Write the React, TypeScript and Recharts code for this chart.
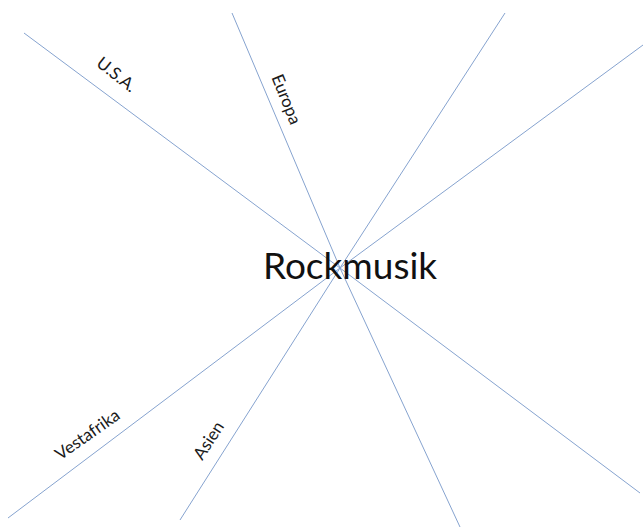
import React from "react";
import { ComposedChart, Line, Scatter, XAxis, YAxis } from "recharts";

const W = 643;
const H = 530;

const hub = { x: 340, y: 268 };

const spokeEnds = [
  { x: 24, y: 33 },
  { x: 232, y: 13 },
  { x: 505, y: 13 },
  { x: 643, y: 45 },
  { x: 640, y: 493 },
  { x: 460, y: 527 },
  { x: 180, y: 520 },
  { x: 8, y: 518 },
];

const labelTexts = ["U.S.A.", "Europa", "Vestafrika", "Asien"];
const labelX = [117, 287, 87, 208];
const labelY = [74, 99, 434, 440];
const labelAngles = [38, 68, -35, -57];

const centerTitle = "Rockmusik";

const labels = labelTexts.map((t, i) => ({
  x: labelX[i],
  y: labelY[i],
  text: t,
  angle: labelAngles[i],
}));

const titleData = [{ x: 350, y: 264, text: centerTitle }];

const LabelShape = (props: any) => {
  const { cx, cy, payload } = props;
  return (
    <text
      x={cx}
      y={cy}
      transform={`rotate(${payload.angle} ${cx} ${cy})`}
      textAnchor="middle"
      dominantBaseline="central"
      fontFamily="Lato, 'Open Sans', sans-serif"
      fontSize={17}
      fill="#1a1a1a"
    >
      {payload.text}
    </text>
  );
};

const TitleShape = (props: any) => {
  const { cx, cy, payload } = props;
  return (
    <text
      x={cx}
      y={cy}
      textAnchor="middle"
      dominantBaseline="central"
      fontFamily="Lato, 'Open Sans', sans-serif"
      fontSize={37}
      fill="#111"
    >
      {payload.text}
    </text>
  );
};

export default function App() {
  return (
    <div style={{ position: "absolute", left: 0, top: 0, width: W, height: H, background: "#fff" }}>
      <ComposedChart width={W} height={H} margin={{ top: 0, right: 0, bottom: 0, left: 0 }}>
        <XAxis type="number" dataKey="x" domain={[0, W]} hide allowDataOverflow />
        <YAxis type="number" dataKey="y" domain={[0, H]} reversed hide allowDataOverflow />
        {spokeEnds.map((e, i) => (
          <Line
            key={i}
            data={[hub, e]}
            dataKey="y"
            type="linear"
            stroke="#86a3cf"
            strokeWidth={1}
            dot={false}
            activeDot={false}
            isAnimationActive={false}
          />
        ))}
        <Scatter data={labels} dataKey="y" shape={<LabelShape />} isAnimationActive={false} />
        <Scatter data={titleData} dataKey="y" shape={<TitleShape />} isAnimationActive={false} />
      </ComposedChart>
    </div>
  );
}
